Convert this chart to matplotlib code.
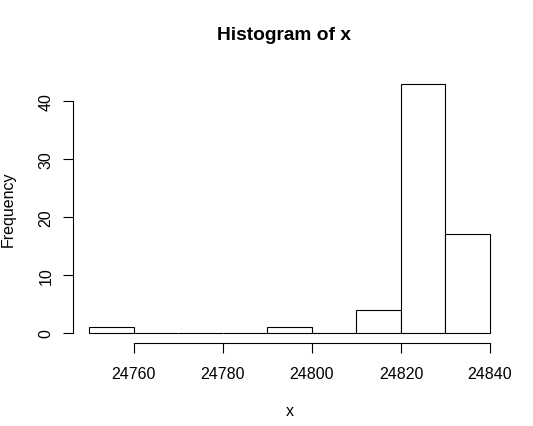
import matplotlib
matplotlib.use("Agg")
import matplotlib.pyplot as plt

# histogram data
bin_edges = [24750, 24760, 24770, 24780, 24790, 24800, 24810, 24820, 24830, 24840]
counts = [1, 0, 0, 0, 1, 0, 4, 43, 17]
x_ticks = [24760, 24780, 24800, 24820, 24840]
y_ticks = [0, 10, 20, 30, 40]

plt.rcParams['font.family'] = ['Liberation Sans', 'DejaVu Sans']

W, H = 533, 427
fig = plt.figure(figsize=(W / 100, H / 100), dpi=100)
# plot region in pixels (R default margins)
left, right, top, bottom = 73.3, 506.0, 74.6, 344.0
ax = fig.add_axes([left / W, 1 - bottom / H, (right - left) / W, (bottom - top) / H])

widths = [b - a for a, b in zip(bin_edges[:-1], bin_edges[1:])]
ax.bar(bin_edges[:-1], counts, width=widths, align='edge',
       facecolor='white', edgecolor='black', linewidth=0.8)

xr = bin_edges[-1] - bin_edges[0]
ax.set_xlim(bin_edges[0] - 0.04 * xr, bin_edges[-1] + 0.04 * xr)
ymax = max(counts)
ax.set_ylim(-0.04 * ymax, ymax * 1.04)

for s in ['top', 'right']:
    ax.spines[s].set_visible(False)
ax.spines['left'].set_bounds(y_ticks[0], y_ticks[-1])
ax.spines['bottom'].set_bounds(x_ticks[0], x_ticks[-1])
ax.spines['left'].set_linewidth(0.8)
ax.spines['bottom'].set_linewidth(0.8)

ax.set_xticks(x_ticks)
ax.set_yticks(y_ticks)
ax.set_xticklabels([str(v) for v in x_ticks])
ax.set_yticklabels([str(v) for v in y_ticks], rotation=90, va='center')
ax.tick_params(axis='both', length=6.9, width=0.8, labelsize=11.5, color='black')
ax.tick_params(axis='x', pad=10)
ax.tick_params(axis='y', pad=7.5)

title = ax.set_title('Histogram of x', fontsize=13.8, fontweight='bold', pad=0,
                     y=(bottom - 36) / (bottom - top), va='center')
title.set_x((284 - left) / (right - left))
ax.set_xlabel('x', fontsize=11.5, va='center')
ax.xaxis.set_label_coords(0.5, (bottom - 412) / (bottom - top))
ax.set_ylabel('Frequency', fontsize=11.5, va='center')
ax.yaxis.set_label_coords((8 - left) / (right - left), 0.5)

fig.savefig('out.png', dpi=100)
